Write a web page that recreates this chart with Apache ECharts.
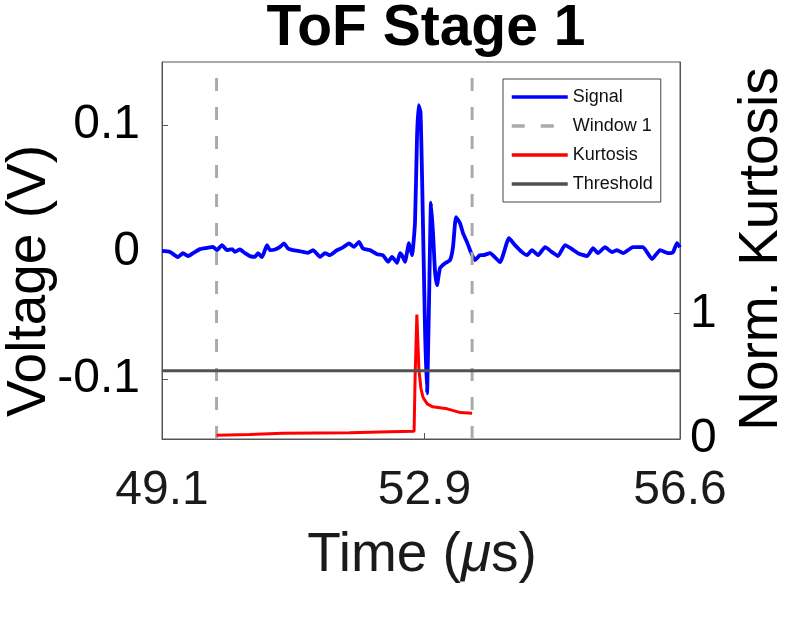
<!DOCTYPE html>
<html>
<head>
    <meta charset="utf-8">
    <script src="https://cdn.jsdelivr.net/npm/echarts@6/dist/echarts.min.js"></script>
</head>
<body style="margin:0;background:#fff">
<div id="main" style="width: 788px;height:621px;"></div>
<script type="text/javascript">
// signal (V) vs time (us)
var signalTime = [49.100,49.216,49.332,49.404,49.476,49.549,49.650,49.752,49.838,49.896,49.969,50.041,50.114,50.157,50.229,50.302,50.374,50.447,50.490,50.548,50.620,50.664,50.736,50.809,50.866,50.924,50.997,51.069,51.142,51.214,51.286,51.388,51.460,51.532,51.634,51.721,51.808,51.880,51.952,52.010,52.112,52.213,52.300,52.372,52.430,52.503,52.546,52.575,52.618,52.676,52.720,52.763,52.792,52.814,52.843,52.865,52.908,52.937,52.966,52.995,53.024,53.053,53.082,53.125,53.198,53.270,53.313,53.357,53.415,53.458,53.516,53.560,53.632,53.704,53.748,53.849,53.994,54.124,54.211,54.313,54.385,54.457,54.544,54.646,54.747,54.834,54.935,55.036,55.123,55.254,55.341,55.413,55.514,55.616,55.688,55.775,55.920,56.064,56.195,56.311,56.427,56.499,56.557,56.600];
var signalVolt = [0.0010,0.0002,-0.0039,-0.0008,-0.0031,-0.0008,0.0024,0.0034,0.0042,0.0016,0.0055,0.0016,0.0024,0.0002,0.0021,-0.0008,-0.0031,-0.0037,-0.0008,-0.0039,0.0055,0.0016,0.0021,0.0042,0.0069,0.0029,0.0016,0.0010,0.0002,-0.0006,0.0016,-0.0037,-0.0008,-0.0024,0.0016,0.0037,0.0069,0.0042,0.0081,0.0029,0.0016,-0.0016,-0.0024,-0.0076,-0.0037,-0.0084,-0.0008,-0.0024,-0.0076,0.0071,-0.0024,0.023,0.090,0.1157,0.110,0.060,-0.060,-0.111,-0.040,0.039,0.015,-0.015,-0.026,-0.0126,-0.0087,-0.0063,0.0039,0.0276,0.0228,0.0150,0.0079,0.0016,-0.0063,-0.0024,-0.0024,-0.0008,-0.0079,0.0110,0.0055,0.0000,-0.0024,0.0016,-0.0024,0.0039,0.0000,-0.0031,0.0055,0.0024,-0.0008,-0.0031,0.0031,-0.0008,0.0039,0.0000,0.0016,-0.0008,0.0039,0.0039,-0.0055,0.0016,-0.0008,0.0000,0.0071,0.0039];

// normalised kurtosis inside window 1
var kurtTime = [49.89,50.37,50.85,51.33,51.82,52.40,52.75,52.765,52.79,52.82,52.85,52.88,52.94,53.02,53.23,53.42,53.59];
var kurtValue = [0.03,0.036,0.045,0.048,0.05,0.058,0.062,0.5,0.99,0.55,0.40,0.33,0.28,0.256,0.24,0.21,0.205];

var windowEdges = [49.89, 53.59];
var thresholdValue = 0.544;

var xTicks = [49.1, 52.9, 56.6];
var yLeftTicks = [-0.1, 0, 0.1];
var yRightTicks = [0, 1];

var xMin = 49.1, xMax = 56.6;
var yMin = -0.147, yMax = 0.1496;
var y2Min = 0, y2Max = 3;

var chart = echarts.init(document.getElementById('main'));

var signalData = signalTime.map(function (t, i) { return [t, signalVolt[i]]; });
var kurtData = kurtTime.map(function (t, i) { return [t, kurtValue[i]]; });

var fontName = 'Liberation Sans';
var lineGrey = '#555';
var textCol = '#1a1a1a';

function windowSeries(x) {
    return {
        name: 'Window 1',
        type: 'line',
        data: [[x, yMin], [x, yMax]],
        symbol: 'none',
        silent: true,
        lineStyle: { color: '#aaaaaa', width: 3, type: [13, 16] },
        itemStyle: { color: '#aaaaaa' }
    };
}

var option = {
    backgroundColor: '#fff',
    animation: false,
    title: {
        text: 'ToF Stage 1',
        left: 421,
        textAlign: 'center',
        top: -4,
        textStyle: { fontFamily: fontName, fontSize: 57, fontWeight: 'bold', color: '#000' }
    },
    legend: {
        orient: 'vertical',
        left: 503,
        top: 79,
        data: ['Signal', 'Window 1', 'Kurtosis', 'Threshold'],
        backgroundColor: '#fff',
        borderColor: '#444',
        borderWidth: 1,
        borderRadius: 0,
        padding: [9, 8, 9, 7],
        itemWidth: 56,
        itemHeight: 14,
        itemGap: 11,
        itemStyle: { opacity: 0 },
        lineStyle: { width: 3.5 },
        textStyle: { fontFamily: fontName, fontSize: 18, color: '#111' }
    },
    grid: {
        left: 162, right: 108, top: 62, bottom: 182,
        outerBoundsMode: 'none',
        containLabel: false,
        show: true, borderColor: lineGrey, borderWidth: 1
    },
    graphic: [
        {
            type: 'text', x: 30, y: 281, rotation: Math.PI / 2,
            style: { text: 'Voltage (V)', font: '55px "Liberation Sans"', fill: '#000', align: 'center', verticalAlign: 'middle' }
        },
        {
            type: 'text', x: 762, y: 249, rotation: Math.PI / 2,
            style: { text: 'Norm. Kurtosis', font: '55px "Liberation Sans"', fill: '#000', align: 'center', verticalAlign: 'middle' }
        },
        {
            type: 'text', x: 422, y: 556,
            style: {
                text: '{n|Time (}{i|μ}{n|s)}',
                align: 'center', verticalAlign: 'middle',
                rich: {
                    n: { fontFamily: fontName, fontSize: 55, fill: textCol },
                    i: { fontFamily: fontName, fontSize: 55, fontStyle: 'italic', fill: textCol }
                }
            }
        }
    ],
    xAxis: {
        type: 'value',
        min: xMin, max: xMax,
        axisLine: { show: true, onZero: false, lineStyle: { color: lineGrey } },
        axisTick: { inside: true, length: 6, customValues: xTicks, lineStyle: { color: lineGrey } },
        axisLabel: {
            customValues: xTicks,
            margin: 28,
            fontFamily: fontName, fontSize: 48, color: textCol,
            formatter: function (v) { return v.toFixed(1); }
        },
        splitLine: { show: false }
    },
    yAxis: [{
        type: 'value',
        min: yMin, max: yMax,
        axisLine: { show: true, lineStyle: { color: lineGrey } },
        axisTick: { inside: true, length: 6, customValues: yLeftTicks, lineStyle: { color: lineGrey } },
        axisLabel: {
            customValues: yLeftTicks,
            margin: 22,
            fontFamily: fontName, fontSize: 48, color: '#000',
            formatter: function (v) { return String(v); }
        },
        splitLine: { show: false }
    }, {
        type: 'value',
        position: 'right',
        min: y2Min, max: y2Max,
        axisLine: { show: true, lineStyle: { color: lineGrey } },
        axisTick: { inside: true, length: 6, customValues: yRightTicks, lineStyle: { color: lineGrey } },
        axisLabel: {
            customValues: yRightTicks,
            margin: 10,
            fontFamily: fontName, fontSize: 48, color: '#000'
        },
        splitLine: { show: false }
    }],
    series: [
        {
            name: 'Signal',
            type: 'line',
            data: signalData,
            symbol: 'none',
            smooth: 0.15,
            lineStyle: { color: '#0000ff', width: 3.8 },
            itemStyle: { color: '#0000ff' }
        },
        windowSeries(windowEdges[0]),
        windowSeries(windowEdges[1]),
        {
            name: 'Kurtosis',
            type: 'line',
            yAxisIndex: 1,
            data: kurtData,
            symbol: 'none',
            lineStyle: { color: '#ff0000', width: 3 },
            itemStyle: { color: '#ff0000' }
        },
        {
            name: 'Threshold',
            type: 'line',
            yAxisIndex: 1,
            data: [[xMin, thresholdValue], [xMax, thresholdValue]],
            symbol: 'none',
            lineStyle: { color: '#505050', width: 3 },
            itemStyle: { color: '#505050' }
        }
    ]
};

chart.setOption(option);
</script>
</body>
</html>
